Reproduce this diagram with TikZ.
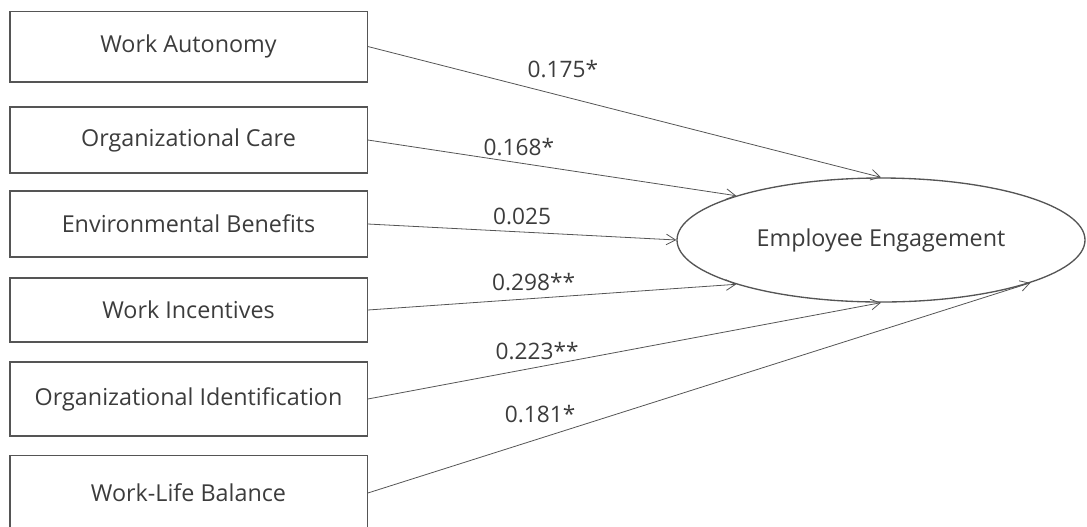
\documentclass[tikz,border=0pt]{standalone}
\usepackage{fontspec}
\setmainfont{Open Sans}
\usepackage{xcolor}
\usetikzlibrary{shapes.geometric,arrows.meta}
\definecolor{PathGray}{RGB}{85,85,85}
\definecolor{TextGray}{RGB}{60,60,60}

\begin{document}
\begin{tikzpicture}[
  x=0.75pt, y=-0.75pt,
  factor/.style={
    draw=PathGray,
    line width=1pt,
    text=TextGray,
    font=\fontsize{17.5}{20}\selectfont,
    minimum width=268pt,
    minimum height=50pt,
    inner sep=0pt,
  },
  outcome/.style={
    ellipse,
    draw=PathGray,
    line width=1pt,
    text=TextGray,
    font=\fontsize{17.5}{20}\selectfont,
    minimum width=306pt,
    minimum height=93pt,
    inner sep=0pt,
  },
  arr/.style={-{Straight Barb[length=7pt,width=8pt]}, PathGray, line width=0.6pt},
  coef/.style={font=\fontsize{17}{19}\selectfont, text=TextGray, above=2pt},
]
  \useasboundingbox (0,0) rectangle (1087,526);

  \node[factor, minimum height=53pt] (f1) at (188.5,46.5) {Work Autonomy};
  \node[factor, minimum height=49.5pt] (f2) at (188.5,140) {Organizational Care};
  \node[factor, minimum height=49.5pt] (f3) at (188.5,224) {Environmental Benefits};
  \node[factor, minimum height=48pt] (f4) at (188.5,310) {Work Incentives};
  \node[factor, minimum height=55.5pt] (f5) at (188.5,399) {Organizational Identification};
  \node[factor, minimum height=56pt] (f6) at (188.5,493) {Work-Life Balance};

  \node[outcome] (eng) at (881,240) {Employee Engagement};

  \draw[arr] (f1.east) -- node[coef, pos=0.38, above=8pt] {0.175*} (eng.90);
  \draw[arr] (f2.east) -- node[coef, pos=0.41] {0.168*} (eng.163);
  \draw[arr] (f3.east) -- node[coef, pos=0.50] {0.025} (eng.180);
  \draw[arr] (f4.east) -- node[coef, pos=0.45] {0.298**} (eng.197);
  \draw[arr] (f5.east) -- node[coef, pos=0.33] {0.223**} (eng.270);
  \draw[arr] (f6.east) -- node[coef, pos=0.26, above=6pt] {0.181*} (eng.344);
\end{tikzpicture}
\end{document}
